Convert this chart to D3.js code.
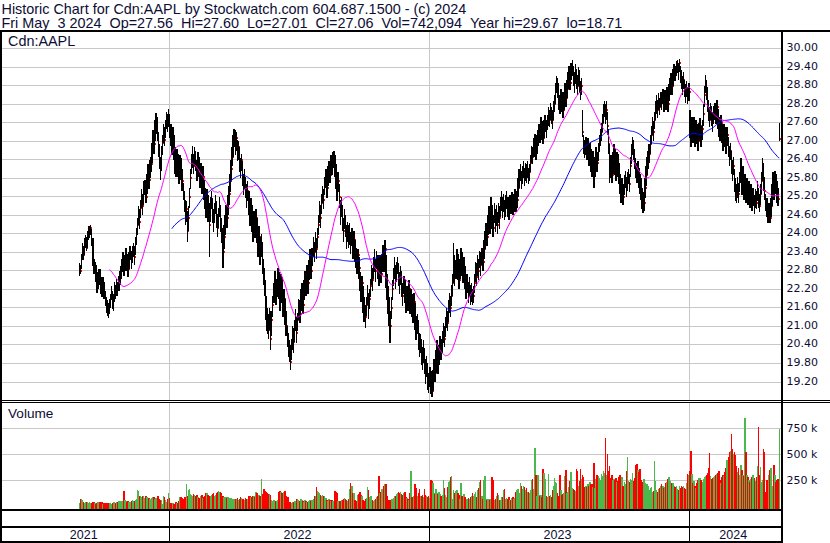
<!DOCTYPE html>
<html><head><meta charset="utf-8">
<script src="https://cdn.jsdelivr.net/npm/d3@7"></script>
<style>html,body{margin:0;padding:0;background:#fff;}svg{display:block;}</style>
</head><body>
<svg id="chart" width="830" height="543"></svg>
<script>
const titleLine1 = "Historic Chart for Cdn:AAPL by Stockwatch.com 604.687.1500 - (c) 2024";
const titleLine2 = "Fri May  3 2024  Op=27.56  Hi=27.60  Lo=27.01  Cl=27.06  Vol=742,094  Year hi=29.67  lo=18.71";
const symbolLabel = "Cdn:AAPL";
const volumeLabel = "Volume";
const priceTicks = [19.2,19.8,20.4,21.0,21.6,22.2,22.8,23.4,24.0,24.6,25.2,25.8,26.4,27.0,27.6,28.2,28.8,29.4,30.0];
const volumeTicks = [250, 500, 750];
const volumeTickLabels = ["250 k", "500 k", "750 k"];
const yearLabels = ["2021", "2022", "2023", "2024"];
const yearStartIndex = [88, 338, 588];
const maShortPeriod = 30;
const maLongPeriod = 90;

const close = [
22.85,22.80,23.20,23.45,23.30,23.60,23.75,23.55,23.90,24.05,
24.10,24.20,23.80,23.10,22.85,22.95,22.60,22.30,22.50,22.70,
22.55,22.30,22.10,22.40,22.05,21.80,21.70,21.55,21.45,21.70,
21.90,22.10,21.75,21.85,22.20,22.05,22.35,22.20,22.45,22.60,
22.80,23.00,23.20,22.90,23.10,23.30,23.05,22.85,23.20,23.40,
23.10,23.35,23.55,23.25,23.70,24.00,24.30,24.60,24.40,24.85,
25.20,24.90,25.40,25.55,25.20,25.70,26.00,25.75,26.10,26.25,
26.70,27.10,26.90,27.50,27.65,27.20,26.80,26.40,26.10,26.60,
26.95,27.30,27.05,27.50,27.75,27.60,27.85,27.40,27.20,26.90,
27.10,26.70,26.30,26.10,26.50,26.20,25.90,26.30,26.05,25.70,
25.30,25.00,24.60,24.80,24.10,24.50,25.20,25.80,26.30,26.50,
26.20,26.55,26.35,25.95,26.40,26.15,25.80,26.00,25.60,25.85,
25.40,25.10,24.80,25.20,24.70,24.30,24.90,25.10,24.60,24.40,
24.70,25.00,24.50,24.20,24.60,24.90,24.40,24.00,23.40,23.90,
24.30,24.70,24.50,25.00,25.30,25.70,26.10,26.50,26.90,27.15,
26.90,27.10,26.60,26.80,26.30,26.10,26.40,25.90,25.60,25.80,
25.50,25.20,25.40,24.90,24.60,24.90,24.40,24.10,24.50,24.20,
24.50,24.00,23.60,23.90,23.30,23.70,23.10,22.70,22.40,21.80,
21.40,21.10,20.90,21.30,20.60,21.20,21.70,22.10,22.40,22.00,
22.30,22.60,22.20,21.80,22.40,22.10,21.60,21.90,21.40,21.00,
20.60,20.30,20.10,19.85,20.30,20.70,20.50,20.90,21.20,20.80,
21.20,21.60,21.40,21.90,22.10,21.70,22.20,22.50,22.30,22.70,
22.40,22.90,23.20,22.80,23.30,23.60,23.40,23.80,23.50,23.90,
24.30,24.70,24.50,25.00,25.30,25.10,25.60,25.80,25.50,25.90,
26.10,25.90,26.30,26.20,26.45,26.50,26.20,25.80,25.50,25.70,
25.20,24.60,24.90,24.40,24.10,24.50,24.20,23.80,24.10,23.90,
24.00,23.70,23.90,23.50,23.80,23.40,23.20,23.00,23.30,22.90,
22.50,22.10,22.40,21.80,21.50,21.30,21.70,22.00,21.60,21.90,
22.30,22.70,22.50,22.90,23.10,22.80,23.20,22.90,22.60,23.00,
22.70,23.10,23.40,23.00,23.50,22.60,22.20,21.80,21.40,21.00,
21.60,22.20,22.60,22.90,22.50,22.80,23.00,22.60,22.40,22.70,
22.30,22.00,22.40,22.10,21.70,22.00,21.80,22.20,21.60,21.90,
21.70,21.40,21.80,21.20,20.90,21.10,20.60,20.30,20.50,20.10,
19.90,20.20,19.80,19.50,19.70,19.30,19.10,19.40,19.00,18.90,
19.30,19.70,19.50,19.90,20.20,19.80,20.10,20.40,20.20,20.50,
20.80,20.60,21.00,21.30,21.10,21.50,21.80,21.60,22.00,22.40,
23.10,22.60,22.90,23.20,22.80,22.50,22.90,23.30,23.00,22.70,
22.90,22.50,22.20,22.40,22.00,22.30,21.90,22.10,21.80,22.00,
22.40,22.80,22.60,23.00,22.80,23.20,23.00,23.30,23.10,23.50,
23.80,24.10,23.90,24.30,24.60,24.30,24.80,24.50,24.20,24.70,
24.40,24.60,24.30,24.70,24.50,24.90,25.10,24.80,25.00,24.70,
24.90,25.10,24.80,24.70,25.00,24.90,25.10,24.85,25.00,25.20,
24.90,25.10,25.50,25.80,26.00,25.70,25.90,26.10,25.80,26.00,
25.90,26.10,25.80,26.00,26.30,26.60,26.50,26.80,27.00,26.70,
26.90,27.10,27.30,27.20,27.50,27.30,27.10,27.40,27.60,27.40,
27.60,27.80,27.70,28.00,27.80,27.70,28.00,28.20,28.60,28.90,
28.70,28.30,28.10,28.40,28.20,28.00,28.30,28.60,28.40,28.70,
29.00,29.20,28.90,29.30,29.40,29.10,28.90,29.20,29.00,28.80,
29.10,28.90,28.60,28.80,27.30,26.90,26.70,26.90,26.60,26.80,
26.50,26.70,26.30,26.10,26.40,25.90,26.20,26.50,26.30,26.70,
26.90,27.10,27.30,27.60,27.90,28.10,27.80,28.00,27.50,26.90,
26.40,26.10,25.90,26.30,26.60,26.20,26.00,26.40,26.20,25.90,
25.60,25.30,25.50,25.20,25.60,25.80,25.50,25.70,25.90,25.60,
26.20,26.60,26.90,26.70,26.40,26.10,25.90,26.10,25.80,25.60,
25.40,25.10,24.90,25.00,25.50,25.90,26.20,26.40,26.60,26.90,
27.20,27.50,27.30,27.70,28.00,28.20,28.00,28.30,28.10,28.40,
28.30,28.50,28.20,28.40,28.30,28.50,28.20,28.60,28.80,29.00,
28.80,29.10,29.30,29.20,29.40,29.50,29.30,29.55,29.20,29.00,
28.80,29.00,28.70,28.50,28.70,28.40,28.60,27.60,27.20,27.50,
27.30,27.60,27.10,27.40,27.20,27.00,27.30,27.50,27.10,27.40,
27.90,28.50,28.90,28.70,28.30,28.00,27.70,28.00,27.80,27.60,
27.90,28.00,27.80,28.10,27.70,27.50,27.30,27.60,27.20,27.00,
27.30,27.10,26.90,27.20,26.80,26.50,26.70,26.30,26.00,26.20,
25.70,25.40,25.20,25.50,25.30,25.70,26.00,25.60,25.80,25.40,
25.60,25.30,25.50,25.20,25.40,25.10,25.30,25.00,25.20,24.90,
25.20,25.00,25.40,25.10,24.90,25.30,25.70,26.10,25.80,25.40,
25.00,24.80,24.60,24.70,24.50,24.90,25.30,25.70,25.40,25.90,25.60,25.30,25.13,27.06
];

const high = [
23.05,23.00,23.35,23.70,23.60,23.85,23.95,23.90,24.10,24.25,
24.25,24.29,24.15,23.85,23.20,23.10,23.00,22.70,22.75,22.85,
22.85,22.60,22.40,22.60,22.45,22.15,21.95,21.85,21.75,21.90,
22.05,22.30,22.15,22.05,22.45,22.35,22.55,22.45,22.65,22.80,
22.95,23.20,23.40,23.25,23.30,23.55,23.35,23.15,23.40,23.60,
23.45,23.60,23.70,23.60,23.90,24.20,24.50,24.90,24.80,25.10,
25.45,25.30,25.70,25.75,25.60,25.95,26.25,26.10,26.40,26.50,
26.95,27.35,27.30,27.70,27.92,27.80,27.30,26.90,26.50,26.85,
27.20,27.55,27.45,27.70,27.95,27.90,28.05,27.90,27.55,27.30,
27.45,27.20,26.80,26.50,26.75,26.60,26.30,26.55,26.45,26.10,
25.65,25.40,25.10,25.05,24.75,24.90,25.50,26.10,26.60,26.85,
26.60,26.80,26.70,26.40,26.65,26.50,26.25,26.30,26.05,26.20,
25.75,25.50,25.20,25.45,25.25,25.00,25.20,25.40,25.15,24.80,
25.00,25.25,25.05,24.65,24.85,25.20,24.95,24.50,24.20,24.30,
24.60,24.95,24.90,25.25,25.55,25.95,26.40,26.80,27.20,27.40,
27.35,27.30,27.05,27.00,26.80,26.45,26.60,26.35,25.95,26.10,
25.85,25.60,25.70,25.40,25.00,25.15,24.95,24.50,24.75,24.60,
24.80,24.50,24.05,24.25,23.90,24.00,23.75,23.20,22.90,22.50,
22.00,21.60,21.40,21.60,21.50,21.50,22.00,22.40,22.80,22.55,
22.55,22.90,22.75,22.35,22.70,22.60,22.20,22.20,21.90,21.50,
21.00,20.80,20.55,20.40,20.60,21.00,20.95,21.20,21.55,21.30,
21.45,21.90,21.85,22.20,22.40,22.25,22.50,22.80,22.75,23.00,
22.85,23.15,23.50,23.25,23.55,23.90,23.75,24.05,23.85,24.20,
24.60,25.05,24.95,25.30,25.55,25.45,25.85,26.10,25.90,26.20,
26.35,26.25,26.55,26.50,26.65,26.70,26.55,26.25,25.95,26.00,
25.60,25.10,25.20,24.95,24.50,24.80,24.60,24.30,24.40,24.30,
24.35,24.05,24.20,23.90,24.10,23.80,23.55,23.35,23.50,23.25,
22.75,22.55,22.65,22.30,21.95,21.70,21.95,22.35,22.10,22.20,
22.55,23.00,22.90,23.25,23.50,23.20,23.45,23.30,22.95,23.30,
23.05,23.35,23.65,23.50,23.80,23.30,22.70,22.30,21.95,21.50,
21.95,22.50,22.90,23.25,23.00,23.10,23.25,23.05,22.75,22.95,
22.80,22.40,22.65,22.50,22.10,22.30,22.15,22.50,22.10,22.20,
22.05,21.85,22.10,21.75,21.35,21.40,21.20,20.80,20.75,20.60,
20.35,20.55,20.30,19.95,20.05,19.80,19.50,19.70,19.55,19.30,
19.60,19.95,19.90,20.25,20.55,20.25,20.40,20.70,20.60,20.85,
21.10,21.00,21.30,21.60,21.50,21.85,22.10,22.00,22.35,22.70,
23.70,23.30,23.15,23.50,23.35,22.90,23.20,23.55,23.40,23.10,
23.25,22.95,22.60,22.70,22.45,22.60,22.35,22.40,22.20,22.30,
22.70,23.10,23.05,23.30,23.20,23.45,23.40,23.55,23.45,23.80,
24.10,24.35,24.30,24.60,24.90,24.75,25.20,24.95,24.60,25.00,
24.80,24.95,24.70,25.00,24.90,25.20,25.40,25.20,25.30,25.10,
25.25,25.40,25.20,25.00,25.25,25.20,25.35,25.20,25.30,25.45,
25.20,25.40,25.80,26.10,26.25,26.05,26.20,26.35,26.15,26.30,
26.25,26.35,26.15,26.25,26.55,26.85,26.80,27.10,27.25,27.00,
27.20,27.35,27.55,27.50,27.80,27.65,27.45,27.70,27.85,27.70,
27.85,28.10,28.00,28.25,28.10,28.00,28.30,28.50,28.90,29.10,
29.05,28.90,28.50,28.70,28.60,28.35,28.60,28.90,28.75,29.00,
29.25,29.45,29.30,29.55,29.65,29.45,29.25,29.50,29.35,29.15,
29.40,29.30,28.95,29.05,28.00,27.20,27.05,27.15,26.95,27.10,
26.85,26.95,26.75,26.45,26.70,26.45,26.50,26.80,26.65,26.95,
27.20,27.40,27.60,27.90,28.20,28.30,28.20,28.30,27.95,27.40,
26.90,26.55,26.30,26.65,26.90,26.75,26.40,26.65,26.60,26.30,
25.95,25.70,25.80,25.60,25.90,26.05,25.85,26.00,26.10,25.95,
26.50,26.90,27.15,27.05,26.75,26.45,26.30,26.35,26.15,25.95,
25.80,25.50,25.25,25.35,25.80,26.20,26.50,26.70,26.90,27.20,
27.50,27.80,27.65,27.95,28.30,28.50,28.35,28.55,28.40,28.60,
28.60,28.70,28.55,28.65,28.60,28.75,28.50,28.85,29.05,29.20,
29.10,29.35,29.50,29.45,29.60,29.65,29.55,29.67,29.45,29.30,
29.10,29.25,29.00,28.85,28.95,28.75,28.90,28.00,27.70,27.80,
27.70,27.80,27.55,27.70,27.55,27.35,27.60,27.75,27.50,27.70,
28.20,28.80,29.15,29.00,28.75,28.35,28.10,28.25,28.15,27.95,
28.15,28.25,28.10,28.35,28.05,27.80,27.65,27.85,27.55,27.35,
27.55,27.45,27.20,27.45,27.15,26.85,26.95,26.70,26.40,26.50,
26.10,25.80,25.60,25.85,25.65,26.00,26.45,26.00,26.20,25.75,
25.95,25.65,25.80,25.55,25.70,25.50,25.60,25.35,25.50,25.25,
25.45,25.40,25.70,25.50,25.30,25.60,26.00,26.45,26.30,25.85,
25.30,25.15,24.95,25.00,24.90,25.15,25.60,26.00,25.75,26.05,25.95,25.70,25.50,27.60
];

const low = [
22.65,22.70,22.85,23.15,23.15,23.30,23.55,23.45,23.55,23.80,
23.85,23.95,23.60,22.95,22.70,22.75,22.45,22.10,22.20,22.40,
22.35,22.05,21.95,22.05,21.90,21.65,21.45,21.35,21.28,21.40,
21.60,21.85,21.55,21.50,21.80,21.90,22.00,22.00,22.15,22.35,
22.55,22.75,22.95,22.65,22.80,23.00,22.80,22.60,22.85,23.15,
22.85,23.05,23.25,23.00,23.30,23.65,23.95,24.30,24.15,24.50,
24.85,24.60,24.95,25.25,25.00,25.30,25.70,25.45,25.80,26.00,
26.30,26.65,26.60,27.00,27.25,27.00,26.50,26.10,25.75,26.05,
26.55,26.95,26.85,27.10,27.40,27.30,27.45,27.10,26.85,26.55,
26.75,26.40,25.95,25.85,26.15,25.85,25.60,26.00,25.75,25.40,
25.10,24.70,24.30,24.40,23.75,24.10,24.85,25.45,25.95,26.15,
25.95,26.20,26.05,25.70,26.00,25.85,25.50,25.70,25.30,25.50,
25.10,24.80,24.50,24.80,24.40,23.25,24.40,24.80,24.35,24.05,
24.35,24.65,24.20,23.90,24.20,24.55,24.05,23.70,22.90,23.50,
23.95,24.30,24.20,24.60,24.95,25.35,25.75,26.20,26.50,26.80,
26.55,26.70,26.35,26.40,26.00,25.80,26.05,25.55,25.25,25.45,
25.15,24.85,25.05,24.60,24.25,24.55,24.05,23.75,24.15,23.85,
24.15,23.70,23.25,23.55,23.00,23.25,22.70,22.35,22.00,21.20,
20.85,20.75,20.60,20.90,20.24,20.70,21.30,21.75,22.10,21.70,
21.95,22.25,21.90,21.50,21.80,21.75,21.30,21.50,21.05,20.70,
20.35,20.00,19.85,19.60,19.90,20.25,20.15,20.50,20.85,20.45,
20.85,21.20,21.10,21.50,21.75,21.40,21.85,22.15,22.00,22.30,
22.05,22.50,22.90,22.55,22.95,23.25,23.10,23.40,23.20,23.55,
23.95,24.35,24.20,24.65,25.00,24.80,25.25,25.50,25.15,25.55,
25.80,25.65,26.00,25.90,26.15,26.20,25.85,25.45,25.05,25.35,
24.85,24.30,24.55,24.10,23.75,24.15,23.90,23.50,23.75,23.55,
23.65,23.35,23.60,23.20,23.45,23.10,22.90,22.70,22.95,22.55,
22.15,21.80,22.05,21.45,21.15,20.95,21.35,21.70,21.25,21.55,
21.95,22.35,22.15,22.55,22.75,22.45,22.85,22.55,22.30,22.65,
22.40,22.75,23.05,22.75,23.10,22.25,21.85,21.40,21.00,20.45,
21.25,21.85,22.30,22.55,22.20,22.45,22.70,22.30,22.05,22.35,
21.95,21.65,22.05,21.75,21.45,21.65,21.50,21.85,21.40,21.55,
21.30,21.10,21.40,20.90,20.55,20.75,20.25,20.00,20.15,19.75,
19.60,19.80,19.45,19.15,19.35,18.95,18.85,19.05,18.80,18.71,
18.90,19.25,19.20,19.50,19.85,19.45,19.75,20.05,19.90,20.15,
20.45,20.35,20.65,20.95,20.85,21.15,21.45,21.30,21.65,22.00,
22.40,22.30,22.55,22.85,22.50,22.20,22.55,22.95,22.65,22.40,
22.55,22.20,21.90,22.10,21.75,21.95,21.70,21.80,21.70,21.75,
22.10,22.45,22.30,22.65,22.50,22.90,22.65,23.00,22.80,23.20,
23.50,23.80,23.60,23.95,24.25,24.00,24.45,24.15,23.90,24.35,
24.05,24.25,24.00,24.35,24.15,24.55,24.75,24.50,24.70,24.45,
24.55,24.80,24.55,24.45,24.70,24.65,24.80,24.60,24.70,24.90,
24.70,24.85,25.20,25.50,25.70,25.45,25.60,25.80,25.55,25.70,
25.65,25.80,25.60,25.70,26.00,26.30,26.25,26.50,26.70,26.40,
26.60,26.85,27.00,26.95,27.20,27.05,26.90,27.10,27.30,27.10,
27.35,27.50,27.45,27.70,27.55,27.40,27.70,27.95,28.20,28.55,
28.40,28.00,27.90,28.10,27.95,27.75,28.00,28.30,28.10,28.40,
28.70,28.90,28.65,29.00,29.10,28.80,28.55,28.85,28.70,28.50,
28.80,28.55,28.35,28.50,27.15,26.60,26.45,26.55,26.40,26.50,
26.20,26.40,26.00,25.85,26.05,25.50,25.85,26.15,26.00,26.35,
26.65,26.85,27.00,27.30,27.60,27.80,27.55,27.70,27.20,26.60,
25.65,25.80,25.65,25.95,26.25,25.90,25.70,26.05,25.85,25.60,
25.30,25.00,25.20,24.95,25.25,25.50,25.20,25.40,25.60,25.35,
25.85,26.25,26.55,26.40,26.10,25.80,25.65,25.80,25.50,25.30,
25.10,24.80,24.68,24.75,25.15,25.55,25.90,26.10,26.30,26.60,
26.90,27.20,27.00,27.40,27.70,27.90,27.75,28.00,27.85,28.10,
28.00,28.20,27.95,28.10,28.00,28.20,27.95,28.30,28.50,28.70,
28.50,28.80,29.00,28.95,29.10,29.20,29.00,29.25,28.90,28.70,
28.50,28.70,28.45,28.25,28.45,28.20,28.30,27.10,26.80,27.20,
26.95,27.25,26.80,27.10,26.90,26.70,27.00,27.20,26.80,27.05,
27.50,28.10,28.55,28.35,27.95,27.65,27.45,27.70,27.50,27.30,
27.55,27.70,27.55,27.80,27.40,27.15,27.00,27.30,26.95,26.70,
27.00,26.80,26.60,26.85,26.50,26.20,26.40,25.95,25.70,25.90,
25.35,25.05,25.00,25.15,25.00,25.35,25.65,25.25,25.40,25.10,
25.25,25.00,25.15,24.95,25.05,24.85,25.00,24.75,24.90,24.65,
24.85,24.80,25.05,24.85,24.70,24.95,25.30,25.70,25.40,25.10,
24.75,24.55,24.35,24.40,24.35,24.55,24.90,25.30,25.10,25.50,25.30,25.00,24.90,27.01
];

// volume in thousands of shares
const volume = [
30,75,70,60,40,35,38,40,38,35,
40,35,30,38,40,30,25,35,40,30,
38,35,40,25,30,35,30,28,30,35,
30,25,35,40,38,30,45,40,50,45,
55,50,45,145,60,50,45,55,40,45,
50,60,55,50,65,70,155,150,95,100,
90,100,95,80,100,90,70,80,75,70,
80,85,90,75,80,100,95,70,60,65,
20,95,85,60,40,75,125,80,30,25,
30,25,20,40,30,35,50,85,90,80,
75,85,90,210,100,160,165,120,110,100,
120,105,95,110,90,80,70,95,105,80,
90,95,130,125,110,100,95,110,120,130,
100,110,130,140,145,135,140,130,95,90,
80,85,80,85,75,80,80,70,65,75,
70,75,80,65,70,85,80,75,70,65,
80,75,70,95,100,85,90,95,100,90,
140,130,110,105,100,260,120,170,165,150,
140,130,120,115,110,60,55,65,50,55,
55,60,140,145,135,130,120,140,150,95,
90,85,45,40,35,40,45,50,55,70,
75,60,55,70,65,50,45,60,50,40,
45,55,60,50,65,70,95,100,185,150,
140,130,105,95,110,100,95,80,60,55,
70,65,50,60,55,45,145,140,130,55,
50,55,65,60,70,80,75,60,55,70,
165,225,200,130,125,60,55,50,110,120,
140,110,95,60,55,70,80,185,160,90,
100,95,60,55,65,70,90,95,290,130,
140,165,170,200,215,210,100,60,55,65,
70,75,80,100,95,120,130,140,125,135,
120,110,130,140,90,80,70,65,130,335,
90,85,95,210,180,100,130,165,100,95,
110,90,170,105,95,90,100,80,255,245,
225,130,120,170,130,120,140,120,100,110,
255,180,110,90,190,230,240,280,295,70,
160,130,150,160,130,110,70,220,100,90,
120,90,70,75,80,70,90,100,130,100,
120,140,90,160,175,230,250,100,70,250,
290,75,60,75,70,60,70,280,255,60,
70,100,130,110,60,65,85,90,160,165,
70,80,70,85,60,65,80,90,75,80,
135,155,165,130,220,200,170,200,190,160,
180,140,135,130,160,250,265,170,565,305,
100,300,105,100,110,90,355,320,260,100,
90,310,95,105,90,160,200,270,230,220,
130,100,300,160,110,120,130,290,350,130,
140,190,240,330,180,170,160,150,355,340,
200,240,355,260,300,280,190,200,185,210,
200,230,210,210,190,420,180,260,300,290,
270,250,310,290,340,320,660,300,500,340,
390,270,300,250,260,250,270,230,240,280,
300,230,280,200,230,210,340,470,240,230,
260,250,320,240,270,400,410,350,330,360,
250,230,200,260,220,200,210,200,160,180,
190,140,150,440,240,160,140,170,180,200,
210,200,180,190,220,230,260,280,240,220,
220,220,200,190,200,170,160,200,180,200,
190,200,180,170,220,310,300,340,530,310,
220,240,200,180,220,250,270,270,250,230,
260,280,290,300,320,370,510,290,260,270,
280,290,300,310,320,340,250,220,280,300,
290,330,370,450,470,520,530,700,550,500,
520,490,390,330,370,300,400,350,300,290,
850,520,300,280,250,230,260,280,300,270,
240,280,390,760,300,380,230,250,550,520,
140,250,230,300,350,370,200,180,400,300,230,250,260,742
];

// ---------- drawing ----------
const W = 830, H = 543;
const textColor = "#0d0d35";
const gridColor = "#c8c8c8";
const svg = d3.select("#chart");
svg.append("rect").attr("width", W).attr("height", H).attr("fill", "#fff");

const N = Math.min(close.length, high.length, low.length, volume.length);
const idx = d3.range(N);
const plotL = 2, plotR = 781;
const priceTop = 32, priceBot = 400, volTop = 402, volBot = 509;

const x = d3.scaleLinear().domain([0, N - 1]).range([78.5, 778.5]);
const yP = d3.scaleLinear().domain([19.2, 30]).range([382, 48.7]);
const yV = d3.scaleLinear().domain([0, 750]).range([506.3, 428.3]);

const grid = svg.append("g").attr("shape-rendering", "crispEdges");
grid.selectAll("line.pg").data(priceTicks).join("line")
  .attr("x1", plotL).attr("x2", plotR)
  .attr("y1", d => Math.floor(yP(d)) + 0.5).attr("y2", d => Math.floor(yP(d)) + 0.5)
  .attr("stroke", gridColor);
grid.selectAll("line.vg").data(volumeTicks).join("line")
  .attr("x1", plotL).attr("x2", plotR)
  .attr("y1", d => Math.floor(yV(d)) + 0.5).attr("y2", d => Math.floor(yV(d)) + 0.5)
  .attr("stroke", gridColor);
const divX = yearStartIndex.map(i => Math.floor(x(i - 0.5)) + 0.5);
divX.forEach(dx => {
  grid.append("line").attr("x1", dx).attr("x2", dx).attr("y1", priceTop).attr("y2", priceBot).attr("stroke", gridColor);
  grid.append("line").attr("x1", dx).attr("x2", dx).attr("y1", volTop).attr("y2", volBot).attr("stroke", gridColor);
});

// price bars: black high-low stroke, red close tick to the right, drawn in date order
const bars = svg.append("g").attr("shape-rendering", "crispEdges");
const bg = bars.selectAll("g").data(idx).join("g");
bg.append("rect")
  .attr("x", i => x(i)).attr("width", 1.5)
  .attr("y", i => Math.round(yP(high[i])))
  .attr("height", i => Math.max(1, Math.round(yP(low[i])) - Math.round(yP(high[i]))))
  .attr("fill", "#000");
bg.append("rect")
  .attr("x", i => x(i) + 1.5).attr("width", 1)
  .attr("y", i => Math.round(yP(close[i])) - 1).attr("height", 2)
  .attr("fill", "#ff0000");

// moving averages
function sma(arr, n) {
  return arr.map((v, i) => i < n - 1 ? null : d3.mean(arr.slice(i - n + 1, i + 1)));
}
const maShort = sma(close.slice(0, N), maShortPeriod);
const maLong = sma(close.slice(0, N), maLongPeriod);
const line = d3.line().defined(d => d != null).x((d, i) => x(i) + 0.75).y(d => yP(d));
svg.append("path").attr("d", line(maLong)).attr("fill", "none").attr("stroke", "#0000ff").attr("stroke-width", 1);
svg.append("path").attr("d", line(maShort)).attr("fill", "none").attr("stroke", "#ff00ff").attr("stroke-width", 1);

// volume bars
const vcol = i => i === 0 || close[i] > close[i - 1] ? "#4cb84c" : (close[i] < close[i - 1] ? "#ff0000" : "#a8a8a8");
svg.append("g").attr("shape-rendering", "crispEdges")
  .selectAll("rect").data(idx).join("rect")
  .attr("x", i => x(i)).attr("width", 1.5)
  .attr("y", i => Math.round(yV(volume[i])))
  .attr("height", i => volBot - Math.round(yV(volume[i])))
  .attr("fill", i => vcol(i));

// frame
const fr = svg.append("g").attr("shape-rendering", "crispEdges").attr("fill", "#000");
fr.append("rect").attr("x", 0).attr("y", 30).attr("width", W).attr("height", 2);
fr.append("rect").attr("x", 0).attr("y", 30).attr("width", 2).attr("height", 513);
fr.append("rect").attr("x", plotR).attr("y", 30).attr("width", 2).attr("height", 513);
fr.append("rect").attr("x", 0).attr("y", 400).attr("width", W).attr("height", 1);
fr.append("rect").attr("x", 0).attr("y", 402).attr("width", W).attr("height", 1);
fr.append("rect").attr("x", 0).attr("y", 509).attr("width", plotR + 2).attr("height", 2);
fr.append("rect").attr("x", 0).attr("y", 526).attr("width", plotR + 2).attr("height", 2);
fr.append("rect").attr("x", 0).attr("y", 541).attr("width", plotR + 2).attr("height", 2);
divX.forEach(dx => fr.append("rect").attr("x", dx - 0.5).attr("y", 511).attr("width", 1).attr("height", 30));

// texts
const sans = '"Liberation Sans", Arial, sans-serif';
const axisFont = '"DejaVu Sans", Verdana, sans-serif';
const keepSpaces = s => s.replace(/ /g, "\u00A0");
function txt(s, xx, yy, size, fam, anchor) {
  return svg.append("text").attr("x", xx).attr("y", yy).attr("font-size", size)
    .attr("font-family", fam).attr("fill", textColor).attr("text-anchor", anchor || "start")
    .text(keepSpaces(s));
}
txt(titleLine1, 1.5, 13.5, 14.4, sans);
txt(titleLine2, 1.5, 28.3, 14.4, sans);
txt(symbolLabel, 8, 46, 14.4, sans);
txt(volumeLabel, 8, 417.7, 13.6, sans);

svg.append("g").selectAll("text").data(priceTicks).join("text")
  .attr("x", 786.5).attr("y", d => Math.floor(yP(d)) + 3)
  .attr("font-size", 11).attr("font-family", axisFont).attr("fill", textColor)
  .text(d => d.toFixed(2));
svg.append("g").selectAll("text").data(volumeTicks).join("text")
  .attr("x", 786.5).attr("y", d => Math.floor(yV(d)) + 4)
  .attr("font-size", 11).attr("font-family", axisFont).attr("fill", textColor)
  .text((d, i) => keepSpaces(volumeTickLabels[i]));

const segEdges = [plotL].concat(divX, [plotR]);
yearLabels.forEach((s, k) => {
  const cx = (segEdges[k] + segEdges[k + 1]) / 2 - 2;
  txt(s, cx, 538.8, 12.5, sans, "middle");
});
</script>
</body></html>
